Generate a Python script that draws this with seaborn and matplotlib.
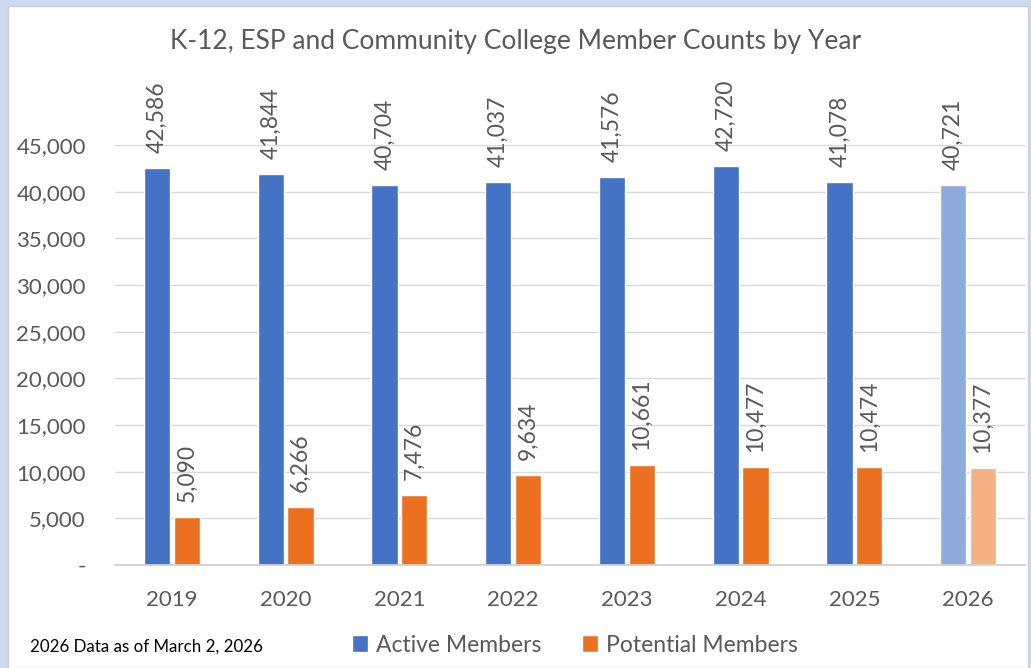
import pandas as pd
import seaborn as sns
from matplotlib import pyplot as plt
from matplotlib.patches import Rectangle, Patch

years = ['2019', '2020', '2021', '2022', '2023', '2024', '2025', '2026']
active = [42586, 41844, 40704, 41037, 41576, 42720, 41078, 40721]
potential = [5090, 6266, 7476, 9634, 10661, 10477, 10474, 10377]
series = ['Active Members', 'Potential Members']

df = pd.DataFrame({'Year': years * 2,
                   'Members': active + potential,
                   'Series': [series[0]] * len(years) + [series[1]] * len(years)})

blue, orange = '#4472C4', '#EB7020'
blue_light, orange_light = '#8FAADC', '#F4B183'
grey = '#595959'

sns.set_theme(style='white')
plt.rcParams['font.family'] = ['Lato', 'DejaVu Sans']

fig = plt.figure(figsize=(10.31, 6.68), dpi=100)
fig.patch.set_facecolor('#C9DCF0')
fig.patches.append(Rectangle((8 / 1031, 0), 1020 / 1031, 662 / 668, transform=fig.transFigure,
                             facecolor='white', edgecolor='#D0D0D0', linewidth=1, zorder=-5))

ax = fig.add_axes([115 / 1031, 1 - 565 / 668, 910 / 1031, 420 / 668])
ax.set_facecolor('none')
sns.barplot(data=df, x='Year', y='Members', hue='Series', palette=[blue, orange],
            saturation=1, width=0.52, gap=0.11, ax=ax, legend=False)

# 2026 bars are partial-year, drawn lighter
ax.containers[0].patches[-1].set_facecolor(blue_light)
ax.containers[1].patches[-1].set_facecolor(orange_light)

for cont in ax.containers:
    for bar in cont.patches:
        h = bar.get_height()
        ax.annotate(f'{h:,.0f}', (bar.get_x() + bar.get_width() / 2, h),
                    xytext=(0, 15), textcoords='offset pixels', rotation=90,
                    ha='center', va='bottom', fontsize=16.5, color=grey,
                    annotation_clip=False)

ax.set_xlim(-0.5, 7.5)
ax.set_ylim(0, 45000)
ax.set_yticks(range(0, 45001, 5000))
ax.set_yticklabels(['-'] + [f'{v:,}' for v in range(5000, 45001, 5000)])
ax.yaxis.grid(True, color='#D9D9D9', linewidth=1)
ax.set_axisbelow(True)
for s in ['top', 'right', 'left']:
    ax.spines[s].set_visible(False)
ax.spines['bottom'].set_color('#D0D0D0')
ax.spines['bottom'].set_linewidth(1.3)
ax.tick_params(axis='y', length=0, pad=21, labelsize=16, labelcolor=grey)
ax.tick_params(axis='x', length=0, pad=18, labelsize=16, labelcolor=grey)
ax.set_xlabel('')
ax.set_ylabel('')

fig.text(516 / 1031, 1 - 42 / 668, 'K-12, ESP and Community College Member Counts by Year',
         ha='center', va='center', fontsize=19, color=grey)
fig.text(30 / 1031, 1 - 647 / 668, '2026 Data as of March 2, 2026',
         ha='left', va='center', fontsize=12.2, color='black')

handles = [Patch(facecolor=blue), Patch(facecolor=orange)]
fig.legend(handles, series, loc='center', bbox_to_anchor=(575 / 1031, 1 - 645 / 668),
           ncol=2, frameon=False, fontsize=16.5, labelcolor=grey,
           handlelength=0.7, handleheight=0.7, handletextpad=0.35, columnspacing=1.8)

fig.savefig('out.png', dpi=100, facecolor=fig.get_facecolor())
